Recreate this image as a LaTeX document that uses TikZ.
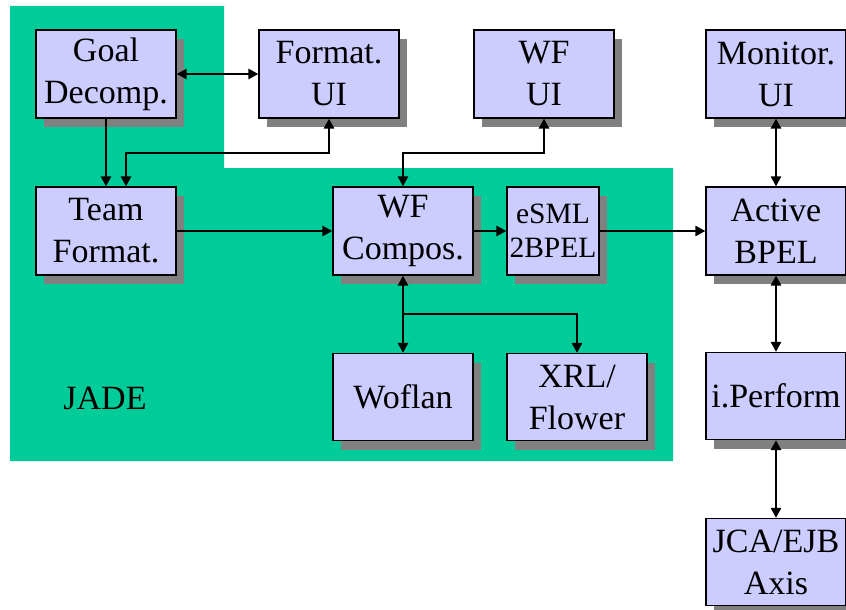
\documentclass[tikz,border=0pt]{standalone}
\usepackage{fontspec}
\setmainfont{Liberation Serif}
\usepackage{xcolor}
\usetikzlibrary{arrows.meta,positioning,calc,shadows}
\definecolor{jadegreen}{HTML}{00CC99}
\definecolor{boxblue}{HTML}{CCCCFF}

\begin{document}
\begin{tikzpicture}[
    x=1pt, y=-1pt,
    >={Triangle[length=10pt,width=10pt]},
    conn/.style={line width=2.7pt},
    comp/.style={draw=black, line width=1.2pt, fill=boxblue, minimum width=140pt, minimum height=88pt, inner sep=0pt, align=center,
        font=\fontsize{34}{42}\selectfont,
        drop shadow={fill=gray, opacity=1, shadow xshift=8pt, shadow yshift=-9pt}},
    smallcomp/.style={comp, minimum width=92pt, font=\fontsize{29.5}{34.5}\selectfont}
]
\useasboundingbox (0,0) rectangle (846,610);
\fill[jadegreen] (10,6) -- (224,6) -- (224,168) -- (673,168) -- (673,461) -- (10,461) -- cycle;
\node[anchor=base, font=\fontsize{34}{41}\selectfont] (jade) at (105,409) {JADE};

\node[comp] (goal) at (106,74) {Goal\\Decomp.};
\node[comp] (fmtui) at (329,74) {Format.\\UI};
\node[comp] (wfui) at (544,74) {WF\\UI};
\node[comp] (monui) at (776,74) {Monitor.\\UI};

\node[comp] (team) at (106,231) {Team\\Format.};
\node[comp] (wfcomp) at (403,231) {WF\\Compos.};
\node[smallcomp] (esml) at (553,231) {eSML\\2BPEL};
\node[comp] (active) at (776,231) {Active\\BPEL};

\node[comp, minimum height=87pt] (woflan) at (403,397) {Woflan};
\node[comp, minimum height=87pt] (xrl) at (577,397) {XRL/\\Flower};
\node[comp, minimum height=87pt] (iperf) at (776,396) {i.Perform};
\node[comp, minimum height=87pt] (jca) at (776,562) {JCA/EJB\\Axis};

\coordinate (uibus) at (126,153);
\coordinate (split) at (403,314);

\draw[<->, conn] (goal) -- (fmtui);
\draw[->, conn] (goal) -- (team);
\draw[<->, conn] (fmtui.south) |- (uibus) -- (uibus |- team.north);
\draw[<->, conn] (wfui.south) |- (wfcomp.north |- uibus) -- (wfcomp.north);
\draw[->, conn] (team) -- (wfcomp);
\draw[->, conn] (wfcomp) -- (esml);
\draw[->, conn] (esml) -- (active);
\draw[<->, conn] (wfcomp) -- (woflan);
\draw[->, conn] (split) -| (xrl.north);
\draw[<->, conn] (monui) -- (active);
\draw[<->, conn] (active) -- (iperf);
\draw[<->, conn] (iperf) -- (jca);
\end{tikzpicture}
\end{document}
